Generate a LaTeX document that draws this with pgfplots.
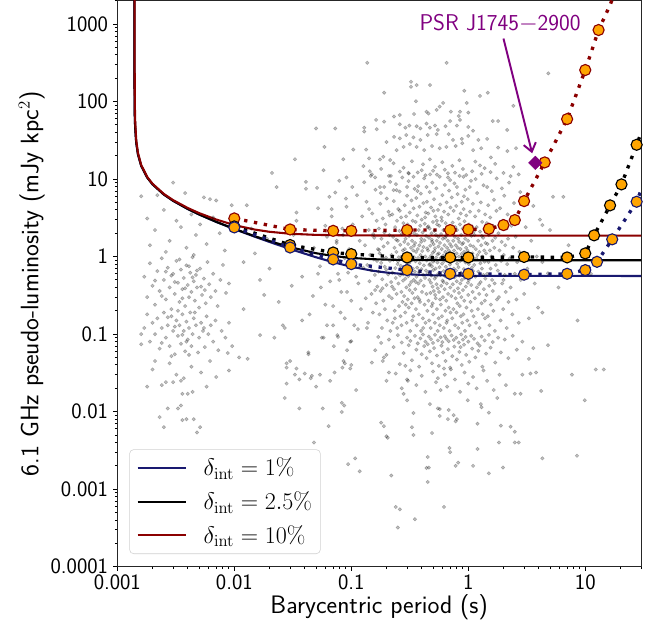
\documentclass[border=0pt]{standalone}
\usepackage{pgfplots}
\pgfplotsset{compat=1.18}
\usetikzlibrary{arrows.meta}
\definecolor{navyc}{RGB}{25,25,112}
\definecolor{darkredc}{RGB}{139,0,0}
\definecolor{orangec}{RGB}{255,165,0}
\definecolor{purplec}{RGB}{128,0,128}
\begin{document}
\begin{tikzpicture}
\begin{axis}[
  name=ax,
  scale only axis, width=376.8pt, height=407.2pt,
  xmode=log, ymode=log,
  xmin=0.001, xmax=30, ymin=0.0001, ymax=2000,
  axis line style={line width=0.8pt, black!85},
  tick align=outside, tick pos=left,
  major tick length=3pt, minor tick length=1.8pt,
  every tick/.style={black, line width=0.7pt},
  xtick={0.001,0.01,0.1,1,10}, xticklabels={0.001,0.01,0.1,1,10},
  ytick={0.0001,0.001,0.01,0.1,1,10,100,1000},
  yticklabels={0.0001,0.001,0.01,0.1,1,10,100,1000},
  minor xtick={0.002,0.003,0.004,0.005,0.006,0.007,0.008,0.009,0.02,0.03,0.04,0.05,0.06,0.07,0.08,0.09,0.2,0.3,0.4,0.5,0.6,0.7,0.8,0.9,2,3,4,5,6,7,8,9,20,30},
  minor ytick={0.0002,0.0003,0.0004,0.0005,0.0006,0.0007,0.0008,0.0009,0.002,0.003,0.004,0.005,0.006,0.007,0.008,0.009,0.02,0.03,0.04,0.05,0.06,0.07,0.08,0.09,0.2,0.3,0.4,0.5,0.6,0.7,0.8,0.9,2,3,4,5,6,7,8,9,20,30,40,50,60,70,80,90,200,300,400,500,600,700,800,900,2000},
  ticklabel style={font=\sffamily\fontsize{15.8}{18}\selectfont},
  yticklabel style={inner xsep=3.5pt},
  xticklabel style={inner ysep=2.8pt},
  xlabel={Barycentric period (s)},
  ylabel={6.1 GHz pseudo-luminosity (mJy kpc$^2$)},
  label style={font=\sffamily\fontsize{18.2}{21}\selectfont},
  xlabel style={at={(axis description cs:0.5,-0.0818)}, anchor=base, inner sep=0pt},
  ylabel style={at={(axis description cs:-0.1507,0.5)}, anchor=base, inner sep=0pt},
  legend style={at={(axis description cs:0.0229,0.0224)}, anchor=south west,
    draw=black!18, rounded corners=3pt, fill=white, fill opacity=0.8, text opacity=1,
    font=\fontsize{17.3}{20}\selectfont, inner xsep=5pt, inner ysep=5pt,
    row sep=7.8pt, column sep=11pt, nodes={inner sep=1pt}},
  legend cell align=left,
  legend image code/.code={\draw[#1] (0pt,0pt) -- (34.8pt,0pt);},
]
% ---------------- pulsar population ----------------
\addplot[only marks, mark=*, mark size=1.25pt, opacity=0.24, mark options={draw=none, fill=black}, forget plot] coordinates {
(0.082,0.35) (0.085,1.9) (0.088,0.16) (0.091,4.4) (0.094,0.62) (0.097,1.15) (0.1,0.27) (0.103,2.6) (0.106,0.13) (0.109,0.85) (0.112,6.2) (0.115,0.45) (0.118,1.6) (0.121,0.21) (0.124,3.3) (0.127,0.72) (0.129,9.1) (0.11,0.55)
(0.131,1.4) (0.133,0.29) (0.135,5.1) (0.137,0.78) (0.139,0.14) (0.141,2.2) (0.143,0.48) (0.145,1.05) (0.147,11) (0.149,0.33) (0.151,3.6) (0.153,0.19) (0.155,0.92) (0.157,1.75) (0.159,0.58) (0.161,7.3) (0.163,0.25) (0.165,2.9) (0.167,0.41) (0.169,1.25) (0.136,0.12) (0.142,4.1) (0.148,0.67) (0.154,1.95) (0.16,0.37) (0.166,0.88)
(0.171,0.64) (0.172,2.3) (0.174,0.18) (0.175,1.1) (0.177,4.8) (0.178,0.36) (0.18,0.83) (0.181,1.7) (0.183,0.12) (0.184,0.51) (0.186,3.1) (0.188,0.27) (0.189,1.35) (0.191,7.9) (0.193,0.74) (0.194,0.21) (0.196,2.6) (0.198,0.97) (0.2,0.43) (0.201,5.6) (0.203,0.15) (0.205,1.5) (0.207,0.59) (0.208,3.8) (0.21,0.31) (0.212,1.9) (0.214,0.88) (0.216,0.11) (0.218,11) (0.219,0.47) (0.173,1.22) (0.179,6.6) (0.185,0.39) (0.192,2.05) (0.199,0.68) (0.213,3.4)
(0.221,1.05) (0.222,0.29) (0.224,3.5) (0.225,0.62) (0.226,0.14) (0.228,1.8) (0.229,0.91) (0.231,5.2) (0.232,0.38) (0.234,1.3) (0.235,0.2) (0.237,2.4) (0.238,0.71) (0.24,0.53) (0.241,8.6) (0.243,1.15) (0.244,0.33) (0.246,2.9) (0.247,0.12) (0.249,0.8) (0.25,1.6) (0.252,4.1) (0.253,0.45) (0.255,0.98) (0.256,0.23) (0.258,2.15) (0.259,6.9) (0.261,0.57) (0.262,1.42) (0.264,0.17) (0.265,0.76) (0.267,3.2) (0.268,0.35) (0.27,1.95) (0.271,0.66) (0.273,10.5) (0.274,0.26) (0.276,1.2) (0.277,0.49) (0.279,2.7) (0.223,0.41) (0.23,7.2) (0.236,0.16) (0.242,1.65) (0.251,0.87) (0.26,3.9) (0.269,0.13) (0.278,0.59)
(0.281,0.95) (0.282,2.2) (0.283,0.31) (0.285,0.68) (0.286,4.6) (0.287,1.25) (0.289,0.19) (0.29,0.52) (0.291,1.7) (0.293,0.86) (0.294,3.3) (0.296,0.4) (0.297,0.14) (0.298,1.1) (0.3,6.1) (0.301,0.73) (0.303,2.6) (0.304,0.28) (0.306,1.45) (0.307,0.56) (0.309,9.4) (0.31,0.22) (0.312,1.85) (0.313,0.83) (0.315,0.37) (0.316,3.7) (0.318,1.02) (0.319,0.11) (0.321,0.61) (0.322,2.35) (0.324,1.3) (0.325,0.47) (0.327,5.3) (0.328,0.25) (0.33,0.9) (0.331,1.6) (0.333,0.34) (0.335,2.9) (0.336,0.7) (0.338,0.17) (0.339,1.2) (0.341,4.2) (0.342,0.5) (0.344,0.98) (0.345,2.0) (0.347,0.29) (0.348,7.5) (0.349,0.64) (0.284,1.55) (0.292,0.24) (0.299,0.79) (0.308,12) (0.314,0.43) (0.323,1.05) (0.332,0.15) (0.343,1.38)
(0.351,1.5) (0.352,0.38) (0.354,0.87) (0.355,2.8) (0.357,0.21) (0.358,1.15) (0.36,5.7) (0.361,0.55) (0.363,0.13) (0.364,1.9) (0.366,0.72) (0.367,3.4) (0.369,0.3) (0.37,1.25) (0.372,0.96) (0.373,8.1) (0.375,0.45) (0.377,2.2) (0.378,0.18) (0.38,0.63) (0.382,1.4) (0.383,4.4) (0.385,0.82) (0.387,0.26) (0.388,2.5) (0.39,1.05) (0.392,0.49) (0.393,6.5) (0.395,0.11) (0.397,1.7) (0.398,0.69) (0.4,3.0) (0.402,0.35) (0.404,1.18) (0.405,0.92) (0.407,2.05) (0.409,0.16) (0.411,0.58) (0.413,4.9) (0.414,1.33) (0.416,0.42) (0.418,0.77) (0.42,10.2) (0.422,1.62) (0.423,0.24) (0.425,2.65) (0.427,0.53) (0.429,1.0) (0.431,0.14) (0.433,3.7) (0.435,0.66) (0.437,1.85) (0.439,0.33) (0.441,0.89) (0.443,5.1) (0.445,1.28) (0.447,0.2) (0.449,2.4) (0.356,0.47) (0.368,7.0) (0.381,0.28) (0.396,1.55) (0.412,0.12) (0.428,3.2)
(0.451,0.61) (0.453,1.2) (0.455,3.6) (0.457,0.27) (0.459,0.94) (0.461,1.75) (0.463,0.15) (0.465,0.5) (0.467,2.3) (0.469,6.8) (0.471,0.8) (0.473,1.38) (0.475,0.34) (0.477,0.12) (0.479,1.02) (0.481,4.3) (0.483,0.57) (0.485,2.0) (0.487,0.23) (0.489,0.75) (0.491,1.55) (0.493,9.0) (0.495,0.41) (0.497,1.12) (0.499,2.8) (0.501,0.18) (0.503,0.67) (0.505,1.45) (0.508,0.36) (0.51,5.5) (0.512,0.9) (0.514,2.15) (0.516,0.52) (0.518,0.14) (0.52,1.28) (0.523,3.3) (0.525,0.7) (0.527,0.29) (0.529,1.9) (0.531,0.97) (0.534,7.6) (0.536,0.44) (0.538,1.6) (0.54,0.21) (0.542,2.6) (0.545,0.84) (0.547,1.07) (0.549,0.39) (0.551,4.0) (0.554,0.6) (0.556,1.35) (0.558,0.16) (0.456,2.45) (0.464,0.78) (0.472,11.5) (0.48,0.46) (0.488,1.65) (0.496,0.25) (0.504,3.9) (0.513,1.18) (0.521,0.32) (0.53,0.55) (0.539,2.9) (0.548,0.11) (0.557,1.8) (0.5,0.86)
(0.561,1.1) (0.563,0.35) (0.566,2.5) (0.568,0.73) (0.571,0.13) (0.573,1.5) (0.576,4.7) (0.578,0.58) (0.581,0.96) (0.583,0.24) (0.586,1.95) (0.588,0.42) (0.591,3.2) (0.593,1.25) (0.596,0.17) (0.598,0.81) (0.601,6.2) (0.603,0.49) (0.606,1.7) (0.608,0.3) (0.611,1.03) (0.613,2.2) (0.616,0.65) (0.618,0.12) (0.621,3.8) (0.623,0.88) (0.626,1.4) (0.628,0.38) (0.631,8.4) (0.633,0.56) (0.636,1.15) (0.638,0.2) (0.641,2.7) (0.643,0.74) (0.646,1.85) (0.648,0.27) (0.651,0.99) (0.654,5.0) (0.656,0.45) (0.659,1.3) (0.661,0.15) (0.664,2.35) (0.666,0.68) (0.669,1.6) (0.672,0.33) (0.674,3.5) (0.677,0.9) (0.68,0.22) (0.682,1.2) (0.685,7.1) (0.688,0.52) (0.69,2.05) (0.693,0.11) (0.696,0.79) (0.698,1.45) (0.701,0.4) (0.704,4.3) (0.707,1.07) (0.574,0.28) (0.594,2.9) (0.614,0.47) (0.634,1.75) (0.652,0.14) (0.671,10.5) (0.691,0.61) (0.705,0.19)
(0.711,0.85) (0.714,2.1) (0.717,0.31) (0.72,1.35) (0.723,5.8) (0.726,0.6) (0.729,0.16) (0.732,1.05) (0.735,2.75) (0.738,0.44) (0.741,0.93) (0.744,1.6) (0.747,0.21) (0.75,3.9) (0.753,0.7) (0.756,1.2) (0.759,0.36) (0.762,8.8) (0.765,0.54) (0.768,1.8) (0.771,0.13) (0.774,0.98) (0.777,2.4) (0.78,0.29) (0.783,1.4) (0.786,0.66) (0.789,4.5) (0.792,0.19) (0.795,1.1) (0.798,0.48) (0.801,2.2) (0.804,0.81) (0.807,0.25) (0.81,6.4) (0.813,1.3) (0.816,0.39) (0.819,1.7) (0.822,0.12) (0.825,0.73) (0.828,3.1) (0.831,1.0) (0.834,0.34) (0.837,1.55) (0.84,0.57) (0.843,11) (0.846,0.23) (0.849,2.6) (0.852,0.88) (0.855,0.45) (0.858,1.25) (0.861,3.6) (0.864,0.17) (0.867,0.62) (0.87,1.9) (0.873,0.3) (0.876,1.08) (0.879,5.1) (0.882,0.5) (0.885,1.45) (0.888,0.14)
(0.892,0.95) (0.897,2.3) (0.901,0.37) (0.905,1.5) (0.909,0.18) (0.913,4.1) (0.917,0.69) (0.921,1.15) (0.925,0.27) (0.929,2.85) (0.933,0.53) (0.937,0.11) (0.941,1.7) (0.945,7.3) (0.949,0.84) (0.953,0.41) (0.957,1.3) (0.961,3.4) (0.965,0.22) (0.969,0.97) (0.973,2.0) (0.977,0.6) (0.981,0.15) (0.985,1.2) (0.989,5.5) (0.993,0.46) (0.997,1.6) (1.0,0.32) (1.01,0.8) (1.015,2.6) (1.02,1.05) (1.025,0.13) (1.03,0.58) (1.035,3.8) (1.04,1.4) (1.045,0.26) (1.05,0.9) (1.055,9.5) (1.06,0.43) (1.065,1.85) (1.07,0.2) (1.075,0.72) (1.08,2.45) (1.085,1.1) (1.09,0.35) (1.095,4.8) (1.1,0.65) (1.105,1.35) (1.11,0.17) (1.115,2.1) (0.919,6.0) (1.012,0.5)
(1.125,0.78) (1.13,1.9) (1.14,0.29) (1.145,3.3) (1.15,0.55) (1.16,1.25) (1.165,0.14) (1.17,0.95) (1.18,2.4) (1.185,0.4) (1.19,6.6) (1.2,1.05) (1.21,0.21) (1.215,1.6) (1.22,0.64) (1.23,3.9) (1.24,0.33) (1.245,1.15) (1.25,0.12) (1.26,2.1) (1.27,0.82) (1.275,0.47) (1.28,5.0) (1.29,1.4) (1.3,0.25) (1.31,0.7) (1.315,2.8) (1.32,1.0) (1.33,0.18) (1.34,1.75) (1.345,0.58) (1.35,8.3) (1.36,0.38) (1.37,1.2) (1.375,2.25) (1.38,0.86) (1.39,0.16) (1.395,3.5) (1.4,0.52) (1.405,1.5) (1.155,10) (1.235,0.44) (1.305,1.85) (1.385,0.27)
(1.42,1.1) (1.43,0.32) (1.44,2.7) (1.45,0.6) (1.46,1.45) (1.47,0.17) (1.48,4.6) (1.49,0.85) (1.5,1.9) (1.51,0.42) (1.52,0.13) (1.53,1.2) (1.54,3.2) (1.55,0.7) (1.56,0.24) (1.57,2.2) (1.58,1.0) (1.59,7.0) (1.6,0.5) (1.61,1.6) (1.62,0.36) (1.63,2.5) (1.64,0.2) (1.65,0.92) (1.66,5.4) (1.67,1.3) (1.68,0.45) (1.69,0.11) (1.7,1.75) (1.72,0.78) (1.74,3.9) (1.76,0.28)
(1.79,0.66) (1.81,2.0) (1.83,0.3) (1.85,1.2) (1.87,4.2) (1.89,0.15) (1.91,0.88) (1.93,1.55) (1.95,0.45) (1.97,2.9) (1.99,0.21) (2.01,1.05) (2.03,6.1) (2.05,0.58) (2.07,1.4) (2.09,0.35) (2.11,2.3) (2.13,0.12) (2.15,0.8) (2.17,3.5) (2.19,1.7) (2.21,0.26) (2.23,9.0) (2.0,0.5)
(2.26,0.95) (2.3,0.4) (2.34,2.5) (2.38,0.18) (2.42,1.3) (2.46,4.9) (2.5,0.6) (2.54,1.8) (2.58,0.28) (2.62,0.85) (2.66,3.1) (2.7,0.14) (2.74,1.15) (2.78,6.8) (2.81,0.5)
(2.9,1.1) (3.0,0.33) (3.1,2.4) (3.2,0.7) (3.3,0.16) (3.45,1.6) (3.6,4.5) (3.7,0.45) (3.85,1.0) (3.95,0.22)
(4.3,0.85) (5.0,2.2) (5.9,0.4) (7.2,1.4) (8.6,0.15) (11.2,0.6)
(0.137,316) (0.653,316) (4.83,231) (0.324,180) (0.362,163) (0.324,155) (0.471,163) (0.191,130) (0.925,138) (1.26,118) (1.47,130) (0.357,101) (0.61,96) (0.57,86) (0.97,96) (2.43,88) (0.44,74) (0.457,70) (0.537,78) (0.71,74) (0.85,74) (1.0,72) (0.83,65) (0.344,69) (0.26,67) (0.163,58) (0.191,55) (1.62,56) (1.8,56) (0.05,45) (0.129,46) (0.129,41)
(0.232,64) (0.26,51) (0.29,46) (0.314,49) (0.362,48) (0.39,45) (0.44,52) (0.47,46) (0.52,49) (0.55,43) (0.64,48) (0.7,56) (0.8,49) (0.85,58) (1.0,47) (1.1,42)
(0.165,44) (0.2,30) (0.232,35) (0.26,33.5) (0.295,37) (0.34,34.5) (0.39,32) (0.45,37) (0.537,38) (0.68,38) (0.74,32) (0.88,33) (1.0,36) (1.22,32) (1.45,33) (2.15,43)
(0.0855,18) (0.104,24) (0.134,24) (0.142,18.5) (0.176,17.9) (0.188,19.4) (0.215,17.6) (0.244,23.6) (0.28,26) (0.317,28.3) (0.362,26) (0.42,23.6) (0.49,26.7) (0.57,25) (0.65,26) (0.78,26.7) (0.89,29) (1.1,23.6) (1.29,25) (1.56,19) (1.8,25.5) (2.16,23) (2.56,25)
(0.051,7.7) (0.065,5.9) (0.073,6.7) (0.091,10.5) (0.102,7.9) (0.127,14.7) (0.144,12.6) (0.16,10.5) (0.176,7.9) (0.215,9.2) (0.244,7.2) (0.3,7.9) (0.34,10.7) (0.4,13) (0.44,7.9) (0.52,14.4) (0.57,10.7) (0.7,9.7) (0.8,7.9) (0.91,10.7) (1.03,7.9) (1.26,15) (1.45,7.9) (1.75,10.2) (1.94,7.6) (2.3,10.9) (2.43,14.4) (5.3,5.9) (6.5,5.9) (4.1,3.0) (4.3,2.55) (4.8,0.61) (4.3,0.19)
(0.15,11.5) (0.18,13.5) (0.21,11) (0.23,16) (0.26,12.5) (0.28,14) (0.31,11.8) (0.33,17) (0.37,12.2) (0.41,15.5) (0.43,11.2) (0.47,18) (0.5,12.8) (0.54,11.4) (0.6,16.5) (0.63,13.2) (0.67,11.9) (0.73,14.8) (0.77,12.1) (0.84,17.5) (0.9,13.5) (0.96,11.3) (1.08,12.6) (1.15,16.8) (1.3,11.7) (1.38,13.8) (1.55,12.3) (1.7,15.7) (2.0,12) (2.7,11.5)
(0.108,0.0025) (0.118,0.0017) (0.22,0.0015) (0.18,0.0072) (0.19,0.0065) (0.2,0.0048) (0.205,0.0046) (0.24,0.00059) (0.26,0.00055) (0.25,0.00032) (0.35,0.00041) (0.62,0.00059) (0.45,0.00124) (0.44,0.00188) (0.46,0.0019) (0.45,0.0026) (0.69,0.0034) (0.7,0.003) (0.78,0.002) (0.82,0.0022) (1.1,0.002) (1.2,0.0033) (1.5,0.0016) (1.98,0.0019) (1.83,0.004) (2.5,0.004) (2.7,0.004) (2.5,0.0055) (1.9,0.0066) (2.3,0.0064) (4.3,0.0025) (0.49,0.0053) (0.33,0.0063) (0.34,0.005) (0.3,0.026) (0.305,0.025) (0.28,0.017) (0.3,0.014) (0.34,0.0096) (0.47,0.0125) (0.55,0.011) (0.57,0.0108) (0.57,0.0088) (0.67,0.008) (0.68,0.0105) (0.75,0.009) (0.8,0.008) (0.78,0.0075) (0.99,0.014) (1.2,0.007) (1.28,0.0125) (1.3,0.0114) (1.5,0.0097) (1.77,0.015) (2.5,0.017) (2.8,0.017) (4.2,0.0185) (7.7,0.03) (9.9,0.014) (8.5,0.0027) (12.3,0.035) (14.4,0.035) (4.8,0.072) (3.4,0.031) (3.8,0.032) (2.9,0.03) (3.3,0.048) (3.6,0.066) (0.083,0.0099) (0.087,0.012) (0.066,0.025) (0.11,0.019) (0.084,0.037) (0.088,0.042) (0.1,0.04) (0.098,0.036) (0.15,0.043) (0.186,0.045) (0.21,0.032) (0.1,0.081) (0.092,0.062) (0.076,0.097) (0.077,0.092) (0.071,0.07) (0.114,0.116) (0.2,0.054) (0.18,0.077)
(0.17,0.092) (0.21,0.085) (0.25,0.097) (0.27,0.078) (0.3,0.09) (0.32,0.082) (0.35,0.095) (0.37,0.076) (0.39,0.088) (0.41,0.099) (0.43,0.08) (0.46,0.093) (0.48,0.086) (0.5,0.077) (0.52,0.098) (0.55,0.083) (0.58,0.091) (0.6,0.079) (0.63,0.094) (0.65,0.087) (0.68,0.081) (0.72,0.096) (0.75,0.084) (0.79,0.09) (0.83,0.078) (0.87,0.099) (0.9,0.085) (0.95,0.092) (1.0,0.08) (1.06,0.095) (1.12,0.087) (1.2,0.076) (1.3,0.093) (1.38,0.083) (1.5,0.098) (1.62,0.079) (1.8,0.09) (2.05,0.085) (2.4,0.095) (2.9,0.08)
(0.16,0.062) (0.19,0.05) (0.23,0.068) (0.26,0.041) (0.28,0.057) (0.31,0.072) (0.33,0.046) (0.36,0.063) (0.38,0.038) (0.4,0.055) (0.42,0.07) (0.44,0.049) (0.47,0.06) (0.49,0.042) (0.51,0.066) (0.54,0.053) (0.56,0.039) (0.59,0.071) (0.61,0.058) (0.64,0.045) (0.67,0.064) (0.7,0.037) (0.73,0.052) (0.76,0.069) (0.8,0.047) (0.84,0.059) (0.88,0.04) (0.92,0.073) (0.96,0.054) (1.02,0.044) (1.08,0.065) (1.15,0.05) (1.22,0.061) (1.32,0.038) (1.42,0.056) (1.55,0.067) (1.7,0.043) (1.9,0.058) (2.2,0.049) (2.6,0.063) (0.29,0.039) (0.45,0.074) (0.62,0.036) (0.86,0.068) (1.25,0.071)
(0.2,0.025) (0.24,0.031) (0.27,0.02) (0.32,0.034) (0.36,0.022) (0.4,0.029) (0.43,0.018) (0.5,0.033) (0.53,0.024) (0.58,0.019) (0.63,0.03) (0.66,0.021) (0.71,0.035) (0.77,0.026) (0.85,0.018) (0.93,0.032) (1.0,0.023) (1.1,0.028) (1.18,0.02) (1.35,0.034) (1.45,0.025) (1.65,0.019) (1.85,0.03) (2.1,0.022) (0.55,0.027)
(0.0016,6.0) (0.0022,6.2) (0.003,9.0) (0.0038,6.6) (0.0055,5.8) (0.0062,5.5) (0.007,5.3) (0.0018,3.1) (0.0021,2.2) (0.0025,4.0) (0.0028,1.6) (0.0032,2.9) (0.0035,2.4) (0.0039,1.3) (0.0043,3.5) (0.0047,1.9) (0.0051,2.6) (0.0058,1.45) (0.0066,3.2) (0.0075,2.0) (0.0083,1.2) (0.0026,1.15) (0.0045,1.05) (0.0019,1.4) (0.0095,4.6) (0.0128,4.6)
(0.0017,0.55) (0.0018,0.3) (0.0019,0.82) (0.002,0.42) (0.0021,0.24) (0.0022,0.65) (0.0023,0.36) (0.0024,0.95) (0.0025,0.5) (0.0026,0.28) (0.0027,0.72) (0.0028,0.4) (0.0029,0.21) (0.003,0.6) (0.0031,0.33) (0.0032,0.88) (0.0033,0.46) (0.0034,0.26) (0.0035,0.68) (0.0036,0.38) (0.0037,0.53) (0.0038,0.23) (0.0039,0.77) (0.004,0.43) (0.0041,0.3) (0.0042,0.62) (0.0043,0.35) (0.0044,0.98) (0.0045,0.48) (0.0046,0.27) (0.0047,0.58) (0.0048,0.4) (0.005,0.22) (0.0051,0.7) (0.0053,0.32) (0.0055,0.52) (0.0057,0.25) (0.0059,0.85) (0.0061,0.44) (0.0063,0.3) (0.0066,0.6) (0.0069,0.36) (0.0072,0.23) (0.0076,0.5) (0.008,0.78) (0.0085,0.34) (0.009,0.45) (0.0034,0.92) (0.0029,0.57) (0.0041,0.75) (0.0052,0.41) (0.0024,0.31) (0.0036,0.29) (0.0044,0.54) (0.0031,0.47) (0.0026,0.64) (0.0048,0.66) (0.0056,0.37) (0.0021,0.49) (0.0038,0.39)
(0.0017,0.12) (0.0018,0.18) (0.0019,0.08) (0.002,0.14) (0.0021,0.1) (0.0022,0.16) (0.0023,0.065) (0.0024,0.12) (0.0025,0.19) (0.0026,0.09) (0.0027,0.13) (0.0028,0.07) (0.0029,0.17) (0.003,0.11) (0.0031,0.055) (0.0032,0.15) (0.0033,0.095) (0.0034,0.13) (0.0035,0.075) (0.0036,0.18) (0.0037,0.11) (0.0038,0.06) (0.0039,0.145) (0.004,0.085) (0.0041,0.12) (0.0042,0.19) (0.0043,0.07) (0.0044,0.1) (0.0045,0.16) (0.0047,0.13) (0.0049,0.058) (0.005,0.09) (0.0052,0.14) (0.0054,0.11) (0.0056,0.068) (0.0058,0.17) (0.006,0.1) (0.0063,0.13) (0.0066,0.08) (0.0069,0.15) (0.0073,0.062) (0.0078,0.11) (0.0084,0.09) (0.009,0.14) (0.0096,0.07) (0.0033,0.2) (0.0029,0.052) (0.0041,0.054) (0.0024,0.077) (0.0036,0.098) (0.0046,0.19) (0.0027,0.165) (0.0055,0.12) (0.0039,0.08) (0.0031,0.125)
(0.0023,0.0085) (0.0025,0.0063) (0.0036,0.0078) (0.0039,0.008) (0.0045,0.008) (0.0048,0.0054) (0.0051,0.0063) (0.0027,0.011) (0.0033,0.011) (0.0035,0.012) (0.0018,0.021) (0.0024,0.022) (0.0026,0.024) (0.003,0.024) (0.0035,0.025) (0.0037,0.027) (0.0036,0.017) (0.004,0.017) (0.0044,0.018) (0.0016,0.1) (0.0016,0.074) (0.002,0.035) (0.0028,0.042) (0.0032,0.03) (0.0043,0.038) (0.0052,0.032) (0.0062,0.045) (0.007,0.028) (0.0021,0.045) (0.0058,0.021)
(0.0088,0.057) (0.009,0.034) (0.011,0.05) (0.013,0.048) (0.0166,0.097) (0.026,0.13) (0.028,0.037) (0.027,0.015) (0.033,0.03) (0.04,0.031) (0.046,0.029) (0.054,0.03) (0.036,0.026) (0.045,0.027) (0.057,0.011) (0.03,0.045) (0.0166,0.5) (0.018,0.32) (0.027,0.12) (0.028,0.042) (0.028,0.023) (0.043,0.058) (0.034,0.036) (0.023,7.9) (0.034,3.7) (0.021,12) (0.012,0.21) (0.015,1.1) (0.02,0.7) (0.024,0.26) (0.032,1.9) (0.038,0.55) (0.044,0.18) (0.048,1.3) (0.055,0.4) (0.06,2.5) (0.065,0.85) (0.07,0.23) (0.075,1.6) (0.012,0.85) (0.014,2.3) (0.022,0.09) (0.019,1.7) (0.062,0.13) (0.079,0.5) (0.068,4.1) (0.058,0.09) (0.052,0.6) (0.041,9.2)
(0.031,0.42) (0.034,2.9) (0.036,0.011) (0.038,0.15) (0.041,7.5) (0.043,0.055) (0.045,1.1) (0.047,0.31) (0.05,0.021) (0.052,4.2) (0.054,0.75) (0.056,0.09) (0.058,13) (0.06,0.24) (0.062,1.8) (0.064,0.0065) (0.066,0.48) (0.068,3.3) (0.07,0.13) (0.072,0.032) (0.075,1.5) (0.077,0.6) (0.079,9.5) (0.081,0.19) (0.084,2.3) (0.086,0.045) (0.088,0.95) (0.09,5.6) (0.092,0.35) (0.094,0.0021) (0.096,1.25) (0.098,0.08) (0.033,18) (0.048,0.004) (0.059,26) (0.083,0.013) (0.073,45)
};
% ---------------- analytic sensitivity curves ----------------
\addplot[navyc, line width=1.5pt] coordinates {
(0.0014,3000) (0.0014002,469) (0.001401,209) (0.00141,66.3) (0.00142,46.9) (0.00145,29.7) (0.0015,20.96) (0.0016,14.82) (0.0018,10.48) (0.002,8.556) (0.0025,6.319) (0.003,5.24) (0.004,4.11) (0.005,3.494) (0.007,2.802) (0.01,2.263) (0.015,1.803) (0.02,1.545) (0.03,1.254) (0.05,0.980) (0.07,0.847) (0.1,0.741) (0.15,0.6595) (0.2,0.6225) (0.3,0.5915) (0.5,0.5737) (1,0.5656) (2,0.5635) (5,0.5629) (30,0.5628)};
\addlegendentry{$\delta_{\rm int} = 1\%$}
\addplot[black, line width=1.5pt] coordinates {
(0.0014,3000) (0.0014002,469) (0.001401,209) (0.00141,66.3) (0.00142,46.9) (0.00145,29.8) (0.0015,21.0) (0.0016,14.84) (0.0018,10.49) (0.002,8.56) (0.0025,6.32) (0.003,5.25) (0.004,4.12) (0.005,3.50) (0.007,2.814) (0.01,2.280) (0.015,1.831) (0.02,1.587) (0.03,1.324) (0.05,1.106) (0.07,1.018) (0.1,0.9618) (0.15,0.9273) (0.2,0.9143) (0.3,0.9046) (0.5,0.8996) (1,0.8975) (3,0.8968) (30,0.8967)};
\addlegendentry{$\delta_{\rm int} = 2.5\%$}
\addplot[darkredc, line width=1.5pt] coordinates {
(0.001407,3000) (0.00140704,1000) (0.0014075,300) (0.0014114,100) (0.00142,58.7) (0.00145,32.2) (0.0015,21.9) (0.0016,15.21) (0.0018,10.67) (0.002,8.70) (0.0025,6.43) (0.003,5.35) (0.004,4.24) (0.005,3.64) (0.007,3.01) (0.01,2.55) (0.015,2.23) (0.02,2.09) (0.03,1.972) (0.05,1.906) (0.1,1.877) (0.3,1.869) (1,1.867) (30,1.867)};
\addlegendentry{$\delta_{\rm int} = 10\%$}
% ---------------- simulated detections (dotted) ----------------
\addplot[darkredc, line width=2.4pt, dash pattern=on 2.4pt off 4.8pt, forget plot] coordinates {
(0.01,3.11) (0.03,2.24) (0.07,2.15) (0.1,2.15) (0.3,2.2) (0.7,2.2) (1.0,2.24) (1.5,2.28) (2.0,2.55) (2.5,2.96) (3.0,5.2) (4.5,16.4) (7.0,59.4) (10,255) (13,837) (16.3,1758) (18,2600)};
\addplot[only marks, mark=*, mark size=4pt, mark options={fill=orangec, draw=darkredc, line width=0.8pt, solid}, forget plot] coordinates {
(0.01,3.11) (0.03,2.24) (0.07,2.15) (0.1,2.15) (0.3,2.2) (0.7,2.2) (1.0,2.24) (1.5,2.28) (2.0,2.55) (2.5,2.96) (3.0,5.2) (4.5,16.4) (7.0,59.4) (10,255) (13,837)};
\addplot[black, line width=2.4pt, dash pattern=on 2.4pt off 4.8pt, forget plot] coordinates {
(0.01,2.45) (0.03,1.41) (0.07,1.13) (0.1,1.077) (0.3,0.975) (0.7,0.975) (1.0,0.976) (3.0,0.99) (7.0,0.976) (10,1.1) (11.9,1.88) (16.3,4.58) (20.4,8.54) (27.5,27.7) (30,39)};
\addplot[only marks, mark=*, mark size=4pt, mark options={fill=orangec, draw=black, line width=0.8pt, solid}, forget plot] coordinates {
(0.01,2.45) (0.03,1.41) (0.07,1.13) (0.1,1.077) (0.3,0.975) (0.7,0.975) (1.0,0.976) (3.0,0.99) (7.0,0.976) (10,1.1) (11.9,1.88) (16.3,4.58) (20.4,8.54) (27.5,27.7)};
\addplot[navyc, line width=2.4pt, dash pattern=on 2.4pt off 4.8pt, forget plot] coordinates {
(0.01,2.38) (0.03,1.31) (0.07,0.92) (0.1,0.80) (0.3,0.67) (0.7,0.6) (1.0,0.6) (3.0,0.585) (7.0,0.6) (10,0.67) (12.6,0.857) (17,1.67) (27.5,5.1) (30,7.2)};
\addplot[only marks, mark=*, mark size=4pt, mark options={fill=orangec, draw=navyc, line width=0.8pt, solid}, forget plot] coordinates {
(0.01,2.38) (0.03,1.31) (0.07,0.92) (0.1,0.80) (0.3,0.67) (0.7,0.6) (1.0,0.6) (3.0,0.585) (7.0,0.6) (10,0.67) (12.6,0.857) (17,1.67) (27.5,5.1)};
% ---------------- PSR J1745-2900 ----------------
\addplot[only marks, mark=square*, mark size=3.4pt, mark options={rotate=45, fill=purplec, draw=purplec}, forget plot] coordinates {(3.74,16.2)};
\draw[purplec, line width=1.4pt, -{Straight Barb[length=6pt, width=9pt, line width=1.4pt]}] (axis cs:2.0,650) -- (axis cs:3.52,21.5);
\node[text=purplec, font=\sffamily\fontsize{16.4}{19}\selectfont, anchor=base, inner sep=0pt] at (axis cs:1.87,819) {PSR J1745$-$2900};
\end{axis}
\pgfresetboundingbox
\path[use as bounding box] ([shift={(-84.4pt,-47pt)}]ax.south west) rectangle ([shift={(12.9pt,0.5pt)}]ax.north east);
\end{tikzpicture}
\end{document}
